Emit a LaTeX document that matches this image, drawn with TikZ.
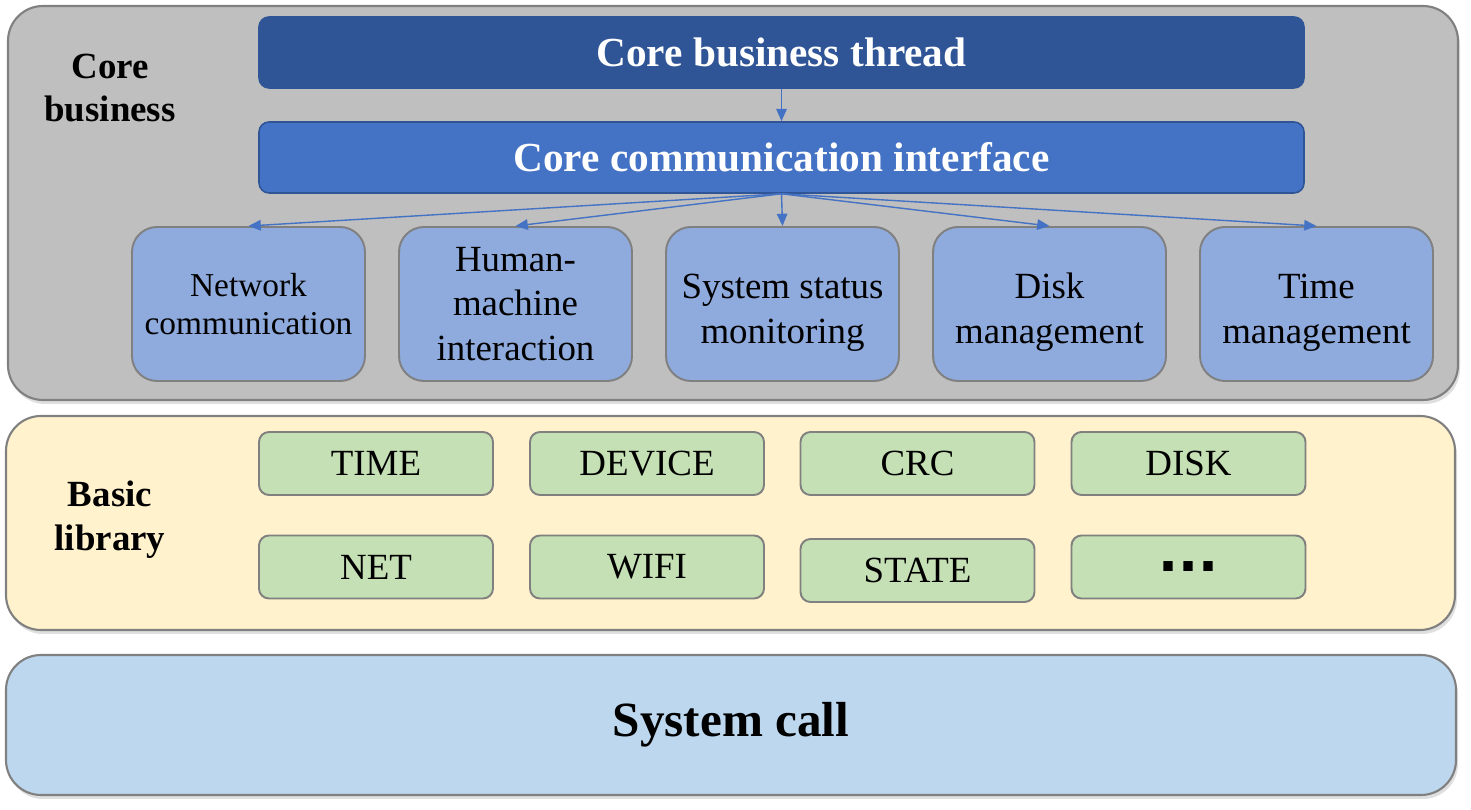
\documentclass[tikz,border=0pt]{standalone}
\usepackage{fontspec}
\setmainfont{Liberation Serif}
\newfontfamily\dotfont{DejaVu Sans}
\usepackage{xcolor}
\usetikzlibrary{arrows.meta,shadows}

\definecolor{layergray}{HTML}{BFBFBF}
\definecolor{layeryellow}{HTML}{FFF2CC}
\definecolor{layerblue}{HTML}{BDD7EE}
\definecolor{threadblue}{HTML}{2F5597}
\definecolor{ifaceblue}{HTML}{4472C4}
\definecolor{modblue}{HTML}{8FAADC}
\definecolor{libgreen}{HTML}{C5E0B4}
\definecolor{edgegray}{HTML}{808080}

\newcommand{\lowstrut}{\rule{0pt}{24pt}}

\tikzset{
  layer/.style={draw=edgegray, line width=1.2pt, rounded corners=0.7cm,
    drop shadow={shadow xshift=0.04cm, shadow yshift=-0.08cm, opacity=0.25}},
  bar/.style={rounded corners=0.2cm, line width=0.9pt, minimum width=20.9cm,
    minimum height=1.42cm, text=white, font=\bfseries\fontsize{23.5}{28}\selectfont},
  module/.style={draw=edgegray, fill=modblue, line width=1.1pt, rounded corners=0.5cm,
    minimum width=4.66cm, minimum height=3.08cm, align=center,
    font=\fontsize{21}{25.5}\selectfont},
  lib/.style={draw=edgegray, fill=libgreen, line width=1.1pt, rounded corners=0.2cm,
    minimum width=4.68cm, minimum height=1.26cm, font=\fontsize{21}{25}\selectfont},
  tag/.style={align=center, font=\bfseries\fontsize{21}{25}\selectfont},
  link/.style={->, draw=ifaceblue, line width=0.8pt}
}

\begin{document}
\begin{tikzpicture}[>={Triangle[length=7pt,width=6pt]}]
\useasboundingbox (0,0) rectangle (29.42,16.2);

\node (core) at (14.66,12.14) [layer, fill=layergray, minimum width=29.0cm, minimum height=7.88cm] {};
\node (basic) at (14.61,5.74) [layer, fill=layeryellow, minimum width=28.98cm, minimum height=4.28cm] {};
\node (syscall) at (14.62,1.7) [layer, fill=layerblue, minimum width=29.0cm, minimum height=2.8cm,
  font=\bfseries\fontsize{28}{32}\selectfont] {System call};

\node (coretag) at (2.2,14.44) [tag] {Core\\business};
\node (basictag) at (2.2,5.8) [tag] {Basic\\library};

\node (thread) at (15.63,15.15) [bar, draw=threadblue, fill=threadblue] {Core business thread};
\node (iface) at (15.63,13.05) [bar, draw=threadblue, fill=ifaceblue] {Core communication interface};

\node (net) at (4.97,10.12) [module, font=\fontsize{19}{22}\selectfont] {Network\\communication};
\node (hmi) at (10.31,10.12) [module] {Human-\\machine\\interaction};
\node (status) at (15.65,10.12) [module] {\lowstrut System status\\monitoring};
\node (disk) at (20.99,10.12) [module] {\lowstrut Disk\\management};
\node (time) at (26.33,10.12) [module] {\lowstrut Time\\management};

\node (libtime) at (7.52,6.93) [lib] {TIME};
\node (libdevice) at (12.94,6.93) [lib] {DEVICE};
\node (libcrc) at (18.35,6.93) [lib] {CRC};
\node (libdisk) at (23.77,6.93) [lib] {DISK};
\node (libnet) at (7.52,4.86) [lib] {NET};
\node (libwifi) at (12.94,4.86) [lib] {WIFI};
\node (libstate) at (18.35,4.79) [lib] {STATE};
\node (libmore) at (23.77,4.86) [lib, font=\dotfont\bfseries\fontsize{30}{30}\selectfont] {\raisebox{-2.7pt}[0pt][0pt]{...}};

\draw [link] (thread) -- (iface);
\draw [link] (iface.south) -- (net.north);
\draw [link] (iface.south) -- (hmi.north);
\draw [link] (iface.south) -- (status.north);
\draw [link] (iface.south) -- (disk.north);
\draw [link] (iface.south) -- (time.north);
\end{tikzpicture}
\end{document}
